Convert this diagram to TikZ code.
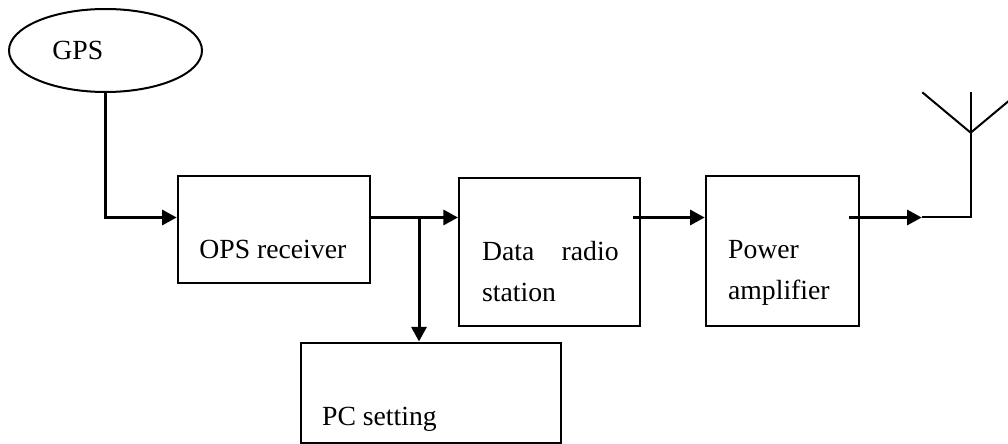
\documentclass[tikz,border=0pt]{standalone}
\usepackage{fontspec}
\setmainfont{Liberation Serif}
\usetikzlibrary{arrows.meta,shapes.geometric}

\tikzset{
  box/.style={draw, line width=1pt, rectangle, inner sep=0pt},
  oval/.style={draw, line width=1pt, ellipse, inner sep=0pt},
  conn/.style={line width=1.5pt},
  wire/.style={line width=1pt},
  tip/.style={-{Triangle[length=7.3pt,width=7.5pt]}},
  lbl/.style={inner sep=0pt, font=\fontsize{13.85}{16}\selectfont}
}

\begin{document}
\begin{tikzpicture}[x=0.5pt, y=-0.5pt]
  \useasboundingbox (0,0) rectangle (1008,444);
  \clip (0,0) rectangle (1008,444);

  % blocks
  \node[oval, minimum width=96.5pt, minimum height=41.5pt] (gps) at (105.5,50.5) {};
  \node[box, minimum width=96.15pt, minimum height=53.5pt] (ops) at (273.85,229.2) {};
  \node[box, minimum width=90.65pt, minimum height=73.85pt] (data) at (549.65,252.15) {};
  \node[box, minimum width=76.8pt, minimum height=75pt] (pwr) at (782.5,250.7) {};
  \node[box, minimum width=130.3pt, minimum height=50.25pt] (pc) at (431,392.75) {};

  % labels
  \node[lbl, anchor=base west] (tgps) at (52,60) {GPS};
  \node[lbl, anchor=base west] (tops) at (199,258.3) {OPS receiver};
  \node[lbl, anchor=base west] (tdata) at (481.7,260.7) {Data};
  \node[lbl, anchor=base east] (tradio) at (619,260.7) {radio};
  \node[lbl, anchor=base west] (tstation) at (481.7,301.7) {station};
  \node[lbl, anchor=base west] (tpower) at (727.7,258.3) {Power};
  \node[lbl, anchor=base west] (tamp) at (727.7,299.3) {amplifier};
  \node[lbl, anchor=base west] (tpc) at (321.7,425) {PC setting};

  % signal level and junction points
  \coordinate (bus) at (0,217.5);
  \coordinate (br) at (419,217.5);
  \coordinate (dout) at (633.3,217.5);
  \coordinate (pout) at (849.3,217.5);
  \coordinate (atip) at (921.7,217.5);
  \coordinate (afeed) at (970.7,217.5);
  \coordinate (avert) at (970.7,132.7);
  \coordinate (atop) at (970.7,92.3);
  \coordinate (aleft) at (922.3,92.3);
  \coordinate (aright) at (1019.1,92.3);

  % connectors
  \draw[conn, tip] (gps.south) |- (ops.west |- bus);
  \draw[conn, tip] (ops.east |- bus) -- (data.west |- bus);
  \draw[conn, tip] (br) -- (br |- pc.north);
  \draw[conn, tip] (dout) -- (pwr.west |- bus);
  \draw[conn, tip] (pout) -- (atip);

  % antenna
  \draw[wire] (atip) -- (afeed) -- (atop);
  \draw[wire] (aleft) -- (avert) -- (aright);
\end{tikzpicture}
\end{document}
